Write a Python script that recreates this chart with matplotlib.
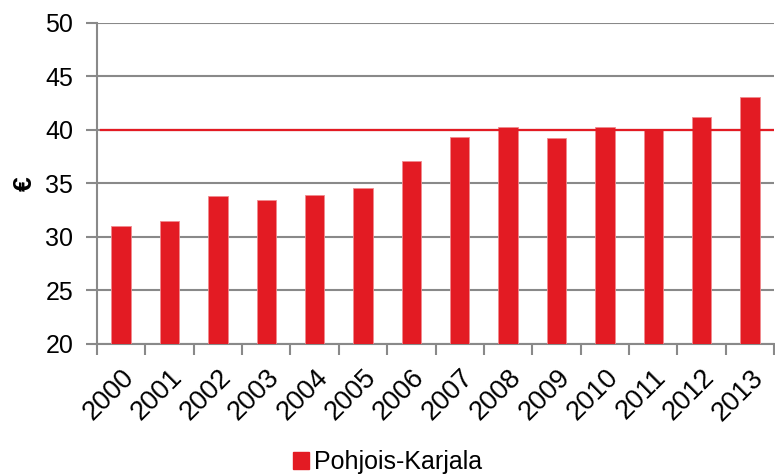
import numpy as np
import matplotlib
matplotlib.use("Agg")
import matplotlib.pyplot as plt
from matplotlib.patches import Patch

plt.rcParams['font.family'] = ['Liberation Sans', 'DejaVu Sans']

years = ['2000', '2001', '2002', '2003', '2004', '2005', '2006',
         '2007', '2008', '2009', '2010', '2011', '2012', '2013']
values = [31.0, 31.5, 33.8, 33.4, 33.9, 34.6, 37.1,
          39.3, 40.25, 39.2, 40.3, 40.1, 41.2, 43.1]
ref_level = 40
series_name = 'Pohjois-Karjala'

red = '#E31B23'
grey = '#898989'

fig = plt.figure(figsize=(7.75, 4.76), dpi=100)
ax = fig.add_axes([0.125, 0.278, 0.874, 0.674])

x = np.arange(len(years))
ax.bar(x, values, width=0.4, color=red, edgecolor='#F08A8E', linewidth=0.6, zorder=3)

# reference line at 40
ax.plot([-0.42, len(years) - 0.5], [ref_level, ref_level], color=red, lw=1.6, zorder=4)

ax.set_ylim(20, 50)
ax.set_xlim(-0.5, len(years) - 0.5)
ax.set_yticks(np.arange(20, 51, 5))
ax.yaxis.grid(True, color=grey, lw=1.5, zorder=0)
ax.set_axisbelow(True)

ax.set_xticks(np.arange(-0.5, len(years), 1.0))
ax.set_xticklabels([])
ax.set_xticks(x, minor=True)
ax.set_xticklabels(years, minor=True, rotation=45, ha='right', va='top',
                   rotation_mode='anchor', fontsize=19.5)
ax.tick_params(axis='x', which='minor', length=0, pad=15)
ax.tick_params(axis='x', which='major', length=8, width=1.5, color=grey)
ax.tick_params(axis='y', length=8, width=1.5, color=grey, labelsize=18, pad=9)

for s in ['top', 'right']:
    ax.spines[s].set_visible(False)
for s in ['left', 'bottom']:
    ax.spines[s].set_color(grey)
    ax.spines[s].set_linewidth(1.5)

ax.set_ylabel('€', fontsize=19, fontweight='bold')
ax.yaxis.set_label_coords(-0.088, 0.5)

fig.legend(handles=[Patch(color=red, label=series_name)], loc='lower center',
           bbox_to_anchor=(0.5, 0.0), borderaxespad=0, borderpad=0.08,
           frameon=False, fontsize=18,
           handlelength=0.65, handleheight=0.65, handletextpad=0.2)

fig.savefig('out.png', dpi=100)
